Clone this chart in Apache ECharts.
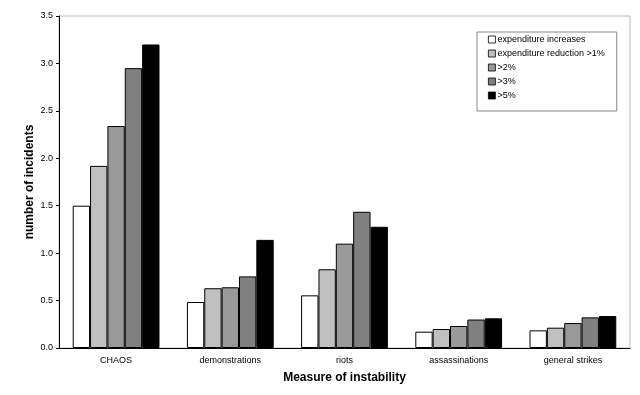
<!DOCTYPE html>
<html>
<head>
<meta charset="utf-8">
<script src="https://cdn.jsdelivr.net/npm/echarts@6/dist/echarts.min.js"></script>
<style>html,body{margin:0;padding:0;background:#fff}#c{width:640px;height:395px}</style>
</head>
<body>
<div id="c"></div>
<script>
const categories = ['CHAOS', 'demonstrations', 'riots', 'assassinations', 'general strikes'];
const seriesNames = ['expenditure increases', 'expenditure reduction >1%', '>2%', '>3%', '>5%'];
const expenditureIncreases = [1.50, 0.485, 0.555, 0.172, 0.186];
const reduction1 = [1.92, 0.63, 0.83, 0.20, 0.214];
const reduction2 = [2.34, 0.64, 1.10, 0.232, 0.263];
const reduction3 = [2.95, 0.755, 1.436, 0.30, 0.323];
const reduction5 = [3.20, 1.14, 1.278, 0.313, 0.337];
const yTicks = [0, 0.5, 1.0, 1.5, 2.0, 2.5, 3.0, 3.5];

const seriesData = [expenditureIncreases, reduction1, reduction2, reduction3, reduction5];
const colors = ['#ffffff', '#c0c0c0', '#999999', '#808080', '#000000'];

const chart = echarts.init(document.getElementById('c'), null, {renderer: 'canvas'});
const font = 'Liberation Sans, Arial, sans-serif';
chart.setOption({
  animation: false,
  backgroundColor: '#fff',
  textStyle: {fontFamily: font},
  grid: {left: 59, right: 10, top: 16, bottom: 47, show: true, borderColor: '#bbbbbb', borderWidth: 1},
  legend: {
    orient: 'vertical',
    left: 477, top: 32,
    width: 136,
    padding: [3, 12, 11, 11],
    itemWidth: 7, itemHeight: 7, itemGap: 5,
    borderColor: '#888', borderWidth: 1,
    icon: 'rect',
    itemStyle: {borderWidth: 0.8},
    textStyle: {fontSize: 9, color: '#000', fontFamily: font, padding: [0, 0, 0, -3]},
    data: seriesNames
  },
  xAxis: {
    type: 'category',
    data: categories,
    name: 'Measure of instability',
    nameLocation: 'middle',
    nameGap: 24,
    nameMoveOverlap: false,
    nameTextStyle: {fontSize: 12, fontWeight: 'bold', color: '#000', fontFamily: font},
    axisLine: {lineStyle: {color: '#000', width: 1}},
    axisTick: {show: false},
    axisLabel: {fontSize: 9, color: '#000', margin: 8, fontFamily: font}
  },
  yAxis: {
    type: 'value',
    min: 0, max: 3.5, interval: 0.5,
    name: 'number of incidents',
    nameLocation: 'middle',
    nameGap: 23,
    nameMoveOverlap: false,
    nameTextStyle: {fontSize: 12, fontWeight: 'bold', color: '#000', fontFamily: font},
    axisLine: {show: true, lineStyle: {color: '#000', width: 1}},
    axisTick: {show: true, length: 3, lineStyle: {color: '#000'}},
    splitLine: {show: false},
    axisLabel: {fontSize: 9, color: '#000', margin: 6, fontFamily: font,
      formatter: v => yTicks.includes(v) ? v.toFixed(1) : ''}
  },
  series: seriesData.map((d, i) => ({
    name: seriesNames[i],
    type: 'bar',
    data: d,
    barGap: '0%',
    barCategoryGap: '24%',
    itemStyle: {color: colors[i], borderColor: '#000', borderWidth: 1}
  }))
});
</script>
</body>
</html>
